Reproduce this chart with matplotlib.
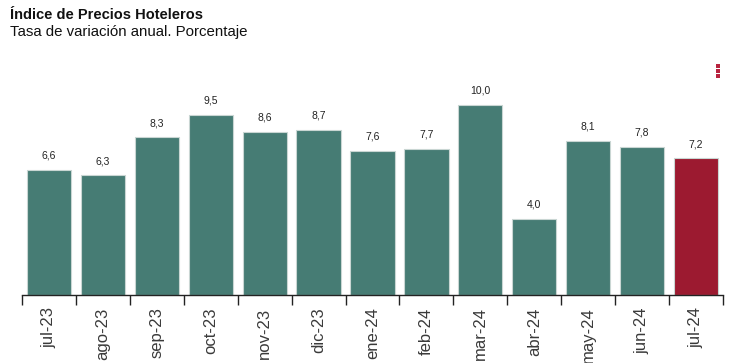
import matplotlib
matplotlib.use("Agg")
import matplotlib.pyplot as plt
from matplotlib.patches import Rectangle

categories = ["jul-23", "ago-23", "sep-23", "oct-23", "nov-23", "dic-23", "ene-24",
              "feb-24", "mar-24", "abr-24", "may-24", "jun-24", "jul-24"]
values = [6.6, 6.3, 8.3, 9.5, 8.6, 8.7, 7.6, 7.7, 10.0, 4.0, 8.1, 7.8, 7.2]
value_labels = ["6,6", "6,3", "8,3", "9,5", "8,6", "8,7", "7,6", "7,7", "10,0", "4,0", "8,1", "7,8", "7,2"]

teal = "#467c74"
red = "#9c1a30"
colors = [teal] * (len(values) - 1) + [red]

plt.rcParams['font.family'] = ['Liberation Sans', 'DejaVu Sans']

W, H = 731, 363
fig = plt.figure(figsize=(W / 100, H / 100), dpi=100)

x0, x1 = 22, 723
ybase, ytop = 295, 60
ax = fig.add_axes([x0 / W, 1 - ybase / H, (x1 - x0) / W, (ybase - ytop) / H])
n = len(values)
xs = list(range(n))
ax.bar(xs, values, width=0.82, color=colors, edgecolor="#c9d6d3", linewidth=0.8)
ax.set_xlim(-0.5, n - 0.5)
ax.set_ylim(0, (ybase - ytop) / 19.0)

for x, v, lab in zip(xs, values, value_labels):
    ax.annotate(lab, (x, v), xytext=(0, 8), textcoords="offset points",
                ha="center", va="baseline", fontsize=7.5, color="#222222")

for s in ["top", "right", "left"]:
    ax.spines[s].set_visible(False)
ax.spines["bottom"].set_color("#222222")
ax.spines["bottom"].set_linewidth(1.0)
ax.set_yticks([])

# boundary ticks
ax.set_xticks([i - 0.5 for i in range(n + 1)], minor=False)
ax.set_xticklabels([])
ax.tick_params(axis="x", which="major", length=7, width=1, color="#222222")
ax.set_xticks(xs, minor=True)
ax.set_xticklabels(categories, minor=True, rotation=90, fontsize=12, color="#3a3a3a",
                   va="top", ha="center")
ax.tick_params(axis="x", which="minor", length=0, pad=9)

fig.text(10 / W, 1 - 15 / H, "Índice de Precios Hoteleros", fontsize=10.5,
         fontweight="bold", va="center", ha="left", color="#111111")
fig.text(10 / W, 1 - 32 / H, "Tasa de variación anual. Porcentaje", fontsize=10.8,
         va="center", ha="left", color="#111111")

# menu icon
for yy in [64, 69, 74]:
    fig.patches.append(Rectangle((716 / W, 1 - (yy + 3.5) / H), 3.5 / W, 3.5 / H,
                                 transform=fig.transFigure, color="#b8243f", linewidth=0))

fig.savefig("out.png", dpi=100)
